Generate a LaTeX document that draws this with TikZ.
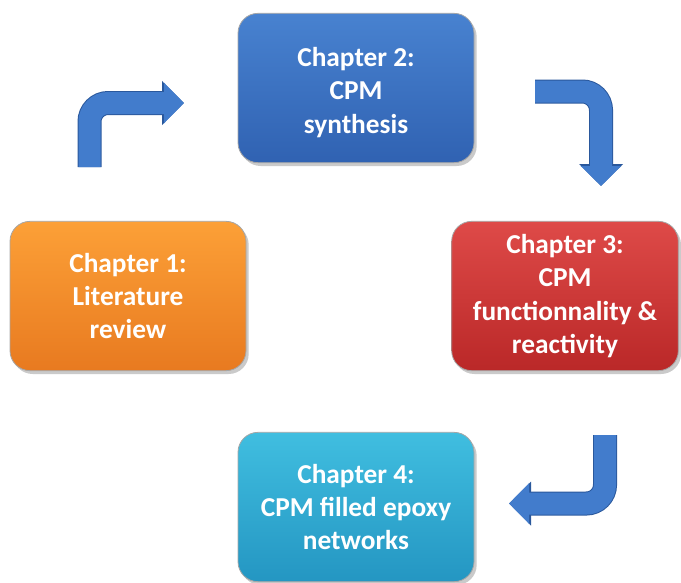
\documentclass[tikz,border=0pt]{standalone}
\usepackage{fontspec}
\setmainfont{Carlito}
\usetikzlibrary{positioning,shadows,arrows.meta}
\definecolor{orangetop}{RGB}{252,160,55}
\definecolor{orangebot}{RGB}{232,122,32}
\definecolor{bluetop}{RGB}{72,130,208}
\definecolor{bluebot}{RGB}{48,98,178}
\definecolor{redtop}{RGB}{222,74,72}
\definecolor{redbot}{RGB}{186,40,40}
\definecolor{cyantop}{RGB}{64,190,224}
\definecolor{cyanbot}{RGB}{36,150,194}
\definecolor{arrowblue}{RGB}{66,124,204}
\definecolor{arrowedge}{RGB}{42,88,156}
\tikzset{chapter box/.style={rectangle, rounded corners=15pt, draw=black!35, line width=0.6pt,
    minimum width=177pt, minimum height=112pt, align=center, text=white,
    font=\bfseries\fontsize{20.5}{25}\selectfont,
    drop shadow={shadow xshift=2pt, shadow yshift=-2.5pt, opacity=0.35, fill=black!60}},
  bent arrow/.style={line width=16.5pt, draw=arrowblue, rounded corners=14pt,
    -{Triangle[width=29.5pt,length=15pt]},
    preaction={draw=arrowedge, line width=18pt, -{Triangle[width=32pt,length=16.5pt]}}},
}

\begin{document}
\begin{tikzpicture}[x=0.75pt,y=-0.75pt]
  \useasboundingbox (0,0) rectangle (681,582);
  \node[chapter box, top color=bluetop, bottom color=bluebot] (2) at (356,88) {\rule{0pt}{21pt}Chapter 2:\\CPM\\synthesis};
  \node[chapter box, top color=orangetop, bottom color=orangebot] (1) at (128,296) {Chapter 1:\\Literature\\review};
  \node[chapter box, top color=redtop, bottom color=redbot, minimum width=170pt] (3) at (565,296) {Chapter 3:\\CPM\\functionnality \&\\reactivity};
  \node[chapter box, top color=cyantop, bottom color=cyanbot] (4) at (356,507) {Chapter 4:\\CPM filled epoxy\\networks};

  % bent arrows between the boxes
  \coordinate (a1s) at (89.5,167);
  \coordinate (a1e) at (184,103);
  \coordinate (a2s) at (535,91.5);
  \coordinate (a2e) at (601,186);
  \coordinate (a3s) at (605,435);
  \coordinate (a3e) at (509,503.5);
  \draw[bent arrow] (a1s) |- (a1e);
  \draw[bent arrow] (a2s) -| (a2e);
  \draw[bent arrow] (a3s) |- (a3e);
\end{tikzpicture}
\end{document}
